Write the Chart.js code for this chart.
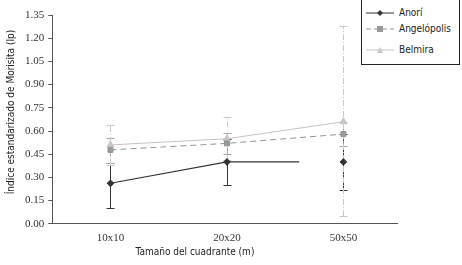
<!DOCTYPE html>
<html>
<head>
<meta charset="utf-8">
<script src="https://cdn.jsdelivr.net/npm/chart.js@4"></script>
<style>
  body { margin: 0; background: #fff; }
  #wrap { position: relative; width: 462px; height: 265px; }
  #legend {
    position: absolute; left: 361px; top: -1px; width: 97px; height: 64px;
    border: 1px solid #222; background: #fff;
    font: 10px "DejaVu Sans Condensed", "DejaVu Sans", sans-serif; color: #222;
  }
  #legend div { position: absolute; left: 4px; height: 12px; line-height: 12px; }
  #legend svg { vertical-align: middle; margin-right: 5px; }
</style>
</head>
<body>
<div id="wrap">
  <canvas id="chart" width="462" height="265"></canvas>
  <div id="legend">
    <div style="top:7px"><svg width="28" height="8"><line x1="0" y1="4" x2="28" y2="4" stroke="#333" stroke-width="1"/><path d="M14 1 L17 4 L14 7 L11 4Z" fill="#333"/></svg>Anorí</div>
    <div style="top:23px"><svg width="28" height="8"><line x1="0" y1="4" x2="28" y2="4" stroke="#8c9a8c" stroke-width="1" stroke-dasharray="5,3"/><rect x="11" y="1" width="6" height="6" fill="#999"/></svg>Angelópolis</div>
    <div style="top:44px"><svg width="28" height="8"><line x1="0" y1="4" x2="28" y2="4" stroke="#c8c0c8" stroke-width="1"/><path d="M14 1 L17 7 L11 7Z" fill="#c8c8c8"/></svg>Belmira</div>
  </div>
</div>
<script>
// Tamaño del cuadrante
const categories = ['10x10', '20x20', '50x50'];
const yTicks = [0, 0.15, 0.30, 0.45, 0.60, 0.75, 0.90, 1.05, 1.20, 1.35];

// Anorí: line stops short of 50x50 in the original figure
const anoriX = [1, 2, 2.62, 2.8, 3];
const anoriY = [0.262, 0.40, 0.40, null, 0.40];
const anoriLo = [0.10, 0.25, 0.22];
const anoriHi = [0.39, 0.55, 0.58];

const angeMean = [0.478, 0.52, 0.58];
const angeLo = [0.39, 0.45, 0.50];
const angeHi = [0.557, 0.59, 0.66];

const belMean = [0.51, 0.55, 0.66];
const belLo = [0.38, 0.41, 0.05];
const belHi = [0.64, 0.69, 1.28];

const errorSets = [
  { lo: anoriLo, hi: anoriHi, color: '#333333', dash: [] },
  { lo: angeLo, hi: angeHi, color: '#9aab9a', dash: [4, 3] },
  { lo: belLo, hi: belHi, color: '#c8c8c8', dash: [6, 2, 1, 2] }
];

const errorBars = {
  id: 'errorBars',
  beforeDatasetsDraw(chart) {
    const ctx = chart.ctx, xs = chart.scales.x, ys = chart.scales.y;
    ctx.save();
    ctx.lineWidth = 1;
    errorSets.forEach(s => {
      ctx.strokeStyle = s.color;
      s.lo.forEach((lo, i) => {
        const x = Math.round(xs.getPixelForValue(i + 1)) + 0.5;
        const y1 = ys.getPixelForValue(lo), y2 = ys.getPixelForValue(s.hi[i]);
        ctx.setLineDash(s.dash);
        ctx.beginPath(); ctx.moveTo(x, y1); ctx.lineTo(x, y2); ctx.stroke();
        ctx.setLineDash([]);
        ctx.beginPath();
        ctx.moveTo(x - 4, Math.round(y1) + 0.5); ctx.lineTo(x + 4, Math.round(y1) + 0.5);
        ctx.moveTo(x - 4, Math.round(y2) + 0.5); ctx.lineTo(x + 4, Math.round(y2) + 0.5);
        ctx.stroke();
      });
    });
    ctx.restore();
  }
};

const titles = {
  id: 'titles',
  afterDraw(chart) {
    const ctx = chart.ctx;
    ctx.save();
    ctx.fillStyle = '#222';
    ctx.font = '10px "DejaVu Sans Condensed", "DejaVu Sans", sans-serif';
    ctx.textAlign = 'center';
    ctx.textBaseline = 'middle';
    ctx.fillText('Tamaño del cuadrante (m)', 195, 252);
    ctx.translate(11, 112);
    ctx.rotate(-Math.PI / 2);
    ctx.fillText('Índice estandarizado de Morisita (Ip)', 0, 0);
    ctx.restore();
  }
};

new Chart(document.getElementById('chart'), {
  type: 'line',
  data: {
    datasets: [{
      label: 'Anorí',
      data: anoriX.map((x, i) => ({ x: x, y: anoriY[i] })),
      borderColor: '#333',
      backgroundColor: '#333',
      borderWidth: 1.2,
      pointStyle: 'rectRot',
      pointRadius: ctx => (Number.isInteger(anoriX[ctx.dataIndex]) ? 3 : 0),
      spanGaps: false
    }, {
      label: 'Angelópolis',
      data: angeMean.map((y, i) => ({ x: i + 1, y: y })),
      borderColor: '#8c968c',
      backgroundColor: '#9a9a9a',
      borderWidth: 1,
      borderDash: [6, 4],
      pointStyle: 'rect',
      pointRadius: 3.5
    }, {
      label: 'Belmira',
      data: belMean.map((y, i) => ({ x: i + 1, y: y })),
      borderColor: '#c8c0c8',
      backgroundColor: '#c8c8c8',
      borderWidth: 1,
      pointStyle: 'triangle',
      pointRadius: 4
    }]
  },
  options: {
    responsive: false,
    animation: false,
    layout: { padding: { left: 21, right: 65, top: 15, bottom: 20 } },
    plugins: { legend: { display: false }, tooltip: { enabled: false } },
    scales: {
      x: {
        type: 'linear',
        min: 0.5,
        max: 3.46,
        afterBuildTicks: axis => { axis.ticks = categories.map((c, i) => ({ value: i + 1 })); },
        ticks: {
          callback: v => categories[v - 1],
          font: { family: '"Liberation Serif", serif', size: 11 },
          color: '#333',
          padding: 0
        },
        grid: { display: false },
        border: { color: '#555' }
      },
      y: {
        min: 0,
        max: 1.35,
        afterBuildTicks: axis => { axis.ticks = yTicks.map(v => ({ value: v })); },
        ticks: {
          callback: v => v.toFixed(2),
          font: { family: '"Liberation Serif", serif', size: 11 },
          color: '#333',
          padding: 4
        },
        grid: { drawOnChartArea: false, tickLength: 4, color: '#555' },
        border: { color: '#555' }
      }
    }
  },
  plugins: [errorBars, titles]
});
</script>
</body>
</html>
